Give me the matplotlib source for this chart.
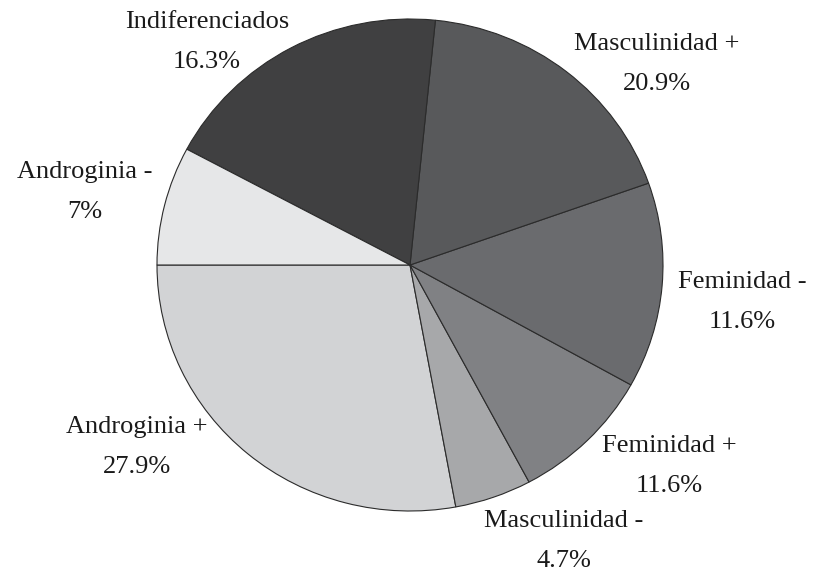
import matplotlib.pyplot as plt

# data
labels = ["Androginia +", "Masculinidad -", "Feminidad +", "Feminidad -",
          "Masculinidad +", "Indiferenciados", "Androginia -"]
pct_text = ["27.9%", "4.7%", "11.6%", "11.6%", "20.9%", "16.3%", "7%"]
# wedge sizes as actually drawn in the picture (they do not quite match the printed %)
sizes = [27.9, 4.9, 9.1, 13.5, 18.0, 18.8, 7.8]
colors = ["#d2d3d5", "#a7a8aa", "#808184", "#6a6b6e", "#58595b", "#404041", "#e6e7e8"]

# label block centres in pixels of the 814x571 image
label_px = [(137, 447), (564, 541), (669, 466), (742, 302),
            (657, 64), (207, 42), (85, 192)]

W, H = 814, 571
cx, cy, rx, ry = 410, 265, 253, 246

fig = plt.figure(figsize=(W / 100, H / 100), dpi=100)
ax = fig.add_axes([(cx - rx) / W, (H - cy - ry) / H, 2 * rx / W, 2 * ry / H])

ax.pie(sizes, colors=colors, startangle=180, counterclock=True,
       wedgeprops=dict(edgecolor="#2b2b2b", linewidth=0.8))
ax.set_aspect("auto")
ax.set_xlim(-1, 1)
ax.set_ylim(-1, 1)
ax.axis("off")

for lab, pct, (px, py) in zip(labels, pct_text, label_px):
    ax.text((px - cx) / rx, (cy - py) / ry, lab + "\n" + pct,
            ha="center", va="center", fontsize=19, linespacing=2.05,
            family="Liberation Serif", color="#1a1a1a", clip_on=False)

fig.savefig("out.png", dpi=100)
